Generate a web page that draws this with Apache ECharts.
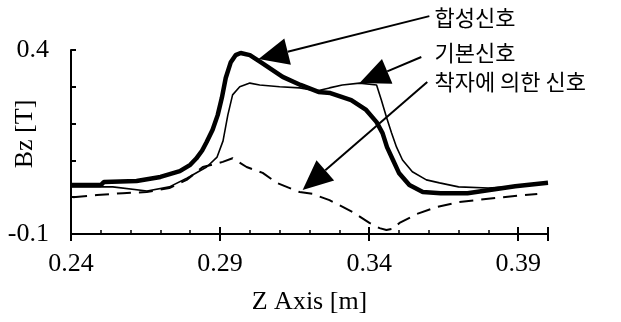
<!DOCTYPE html>
<html>
<head>
<meta charset="utf-8">
<script src="https://cdn.jsdelivr.net/npm/echarts@6/dist/echarts.min.js"></script>
<style>
  html, body { margin: 0; padding: 0; background: #fff; }
  #chart { width: 621px; height: 322px; }
</style>
</head>
<body>
<div id="chart"></div>
<script>
// 합성신호 (굵은 선)
const zSum = [0.240, 0.250, 0.251, 0.262, 0.270, 0.2765, 0.280, 0.282, 0.284, 0.2855, 0.2875, 0.2892, 0.2906, 0.2919, 0.2936, 0.2952, 0.2969, 0.300, 0.304, 0.311, 0.317, 0.323, 0.327, 0.334, 0.339, 0.3425, 0.3445, 0.346, 0.348, 0.350, 0.3535, 0.358, 0.364, 0.373, 0.389, 0.400]
const bzSum = [0.033, 0.033, 0.041, 0.044, 0.055, 0.071, 0.088, 0.105, 0.127, 0.150, 0.183, 0.223, 0.270, 0.324, 0.367, 0.386, 0.392, 0.386, 0.365, 0.327, 0.305, 0.286, 0.283, 0.264, 0.237, 0.204, 0.174, 0.136, 0.101, 0.066, 0.033, 0.014, 0.011, 0.011, 0.030, 0.039]

// 기본신호 (가는 선)
const zBase = [0.240, 0.254, 0.2655, 0.273, 0.279, 0.2855, 0.289, 0.291, 0.2926, 0.2942, 0.2966, 0.300, 0.3033, 0.310, 0.3167, 0.3227, 0.3267, 0.331, 0.3368, 0.3425, 0.3441, 0.3458, 0.3475, 0.3492, 0.3512, 0.3545, 0.3592, 0.3636, 0.370, 0.380, 0.390, 0.400]
const bzBase = [0.028, 0.028, 0.017, 0.028, 0.052, 0.082, 0.109, 0.153, 0.223, 0.278, 0.300, 0.310, 0.305, 0.300, 0.297, 0.289, 0.297, 0.305, 0.310, 0.305, 0.264, 0.218, 0.175, 0.136, 0.101, 0.069, 0.047, 0.039, 0.028, 0.025, 0.030, 0.039]

// 착자에 의한 신호 (점선)
const zMag = [0.2407, 0.2487, 0.2574, 0.2654, 0.273, 0.2788, 0.2842, 0.2909, 0.2942, 0.2989, 0.3043, 0.309, 0.3167, 0.321, 0.3267, 0.3344, 0.3401, 0.3435, 0.3458, 0.3478, 0.3502, 0.3559, 0.3625, 0.3702, 0.3823, 0.3964]
const bzMag = [0.000, 0.006, 0.011, 0.014, 0.025, 0.047, 0.082, 0.096, 0.106, 0.082, 0.066, 0.039, 0.014, 0.009, -0.008, -0.040, -0.070, -0.084, -0.089, -0.086, -0.070, -0.046, -0.027, -0.013, -0.002, 0.009]

const names = ['합성신호', '기본신호', '착자에 의한 신호']
const xTickLabels = [0.24, 0.29, 0.34, 0.39]
const yTickLabels = [-0.1, 0.4]

const serif = '"Liberation Serif", "Times New Roman", serif'
const kor = '"Noto Sans CJK KR", sans-serif'

function pairs (xs, ys) {
  return xs.map((x, i) => [x, ys[i]])
}
function hasLabel (list, v) {
  return list.some(t => Math.abs(t - v) < 1e-9)
}

const chart = echarts.init(document.getElementById('chart'))

const xCommon = {
  type: 'value',
  min: 0.24,
  max: 0.40,
  interval: 0.05,
  splitLine: { show: false }
}

const option = {
  animation: false,
  backgroundColor: '#fff',
  grid: { left: 71, right: 73, top: 50, bottom: 88, containLabel: false, outerBoundsMode: 'none' },
  xAxis: [
    Object.assign({}, xCommon, {
      name: 'Z Axis [m]',
      nameLocation: 'middle',
      nameGap: 55,
      nameMoveOverlap: false,
      nameTextStyle: { color: '#000', fontFamily: serif, fontSize: 26 },
      axisLine: { show: true, onZero: false, lineStyle: { color: '#000', width: 2 } },
      axisTick: { show: true, inside: false, length: 7, lineStyle: { color: '#000', width: 2 } },
      axisLabel: {
        color: '#000',
        fontFamily: serif,
        fontSize: 26,
        margin: 17,
        formatter: v => hasLabel(xTickLabels, v) ? v.toFixed(2) : ''
      }
    }),
    // 눈금선만 위쪽으로 (보조 눈금 포함)
    Object.assign({}, xCommon, {
      position: 'top',
      offset: -184,
      axisLine: { show: false, onZero: false },
      axisLabel: { show: false },
      axisTick: { show: true, inside: false, length: 7, lineStyle: { color: '#000', width: 2 } },
      minorTick: { show: true, splitNumber: 5, length: 4, lineStyle: { color: '#000', width: 1.5 } },
      minorSplitLine: { show: false }
    })
  ],
  yAxis: {
    type: 'value',
    min: -0.1,
    max: 0.4,
    interval: 0.1,
    name: 'Bz [T]',
    nameLocation: 'middle',
    nameGap: 33,
    nameMoveOverlap: false,
    nameTextStyle: { color: '#000', fontFamily: serif, fontSize: 26, padding: [0, 0, 0, 16] },
    splitLine: { show: false },
    axisLine: { show: true, onZero: false, lineStyle: { color: '#000', width: 2 } },
    axisTick: { show: true, inside: true, length: 5, lineStyle: { color: '#000', width: 2 } },
    axisLabel: {
      color: '#000',
      fontFamily: serif,
      fontSize: 26,
      margin: 22,
      formatter: v => hasLabel(yTickLabels, v) ? v.toFixed(1) : ''
    }
  },
  series: [
    {
      name: names[0],
      type: 'line',
      data: pairs(zSum, bzSum),
      showSymbol: false,
      lineStyle: { color: '#000', width: 4.5 },
      z: 3
    },
    {
      name: names[1],
      type: 'line',
      data: pairs(zBase, bzBase),
      showSymbol: false,
      lineStyle: { color: '#000', width: 1.6 },
      z: 2
    },
    {
      name: names[2],
      type: 'line',
      data: pairs(zMag, bzMag),
      showSymbol: false,
      lineStyle: { color: '#000', width: 2, type: [14, 8] },
      z: 2
    }
  ]
}

chart.setOption(option)

// 화살표 주석 (데이터 좌표 기준)
const notes = [
  { text: names[0], at: [0.3619, 0.487], tail: [0.3602, 0.492], tip: [0.3029, 0.3755] },
  { text: names[1], at: [0.3619, 0.392], tail: [0.3575, 0.381], tip: [0.3368, 0.3103] },
  { text: names[2], at: [0.3619, 0.313], tail: [0.3595, 0.313], tip: [0.3177, 0.0196] }
]

function px (p) {
  return chart.convertToPixel({ xAxisIndex: 0, yAxisIndex: 0 }, p)
}

const graphics = []
notes.forEach(n => {
  const a = px(n.tail)
  const b = px(n.tip)
  const dx = a[0] - b[0]
  const dy = a[1] - b[1]
  const len = Math.sqrt(dx * dx + dy * dy)
  const ux = dx / len
  const uy = dy / len
  const headLen = 30
  const half = 13.5
  const bx = b[0] + ux * headLen
  const by = b[1] + uy * headLen
  graphics.push({
    type: 'line',
    shape: { x1: a[0], y1: a[1], x2: bx, y2: by },
    style: { stroke: '#000', lineWidth: 2 },
    z: 10
  })
  graphics.push({
    type: 'polygon',
    shape: { points: [[b[0], b[1]], [bx - uy * half, by + ux * half], [bx + uy * half, by - ux * half]] },
    style: { fill: '#000' },
    z: 10
  })
  const t = px(n.at)
  graphics.push({
    type: 'text',
    x: t[0],
    y: t[1],
    style: { text: n.text, fontFamily: kor, fontSize: 22, fill: '#000', align: 'left', verticalAlign: 'middle' },
    z: 10
  })
})

chart.setOption({ graphic: graphics })

window.addEventListener('resize', () => {
  chart.resize()
})
</script>
</body>
</html>
